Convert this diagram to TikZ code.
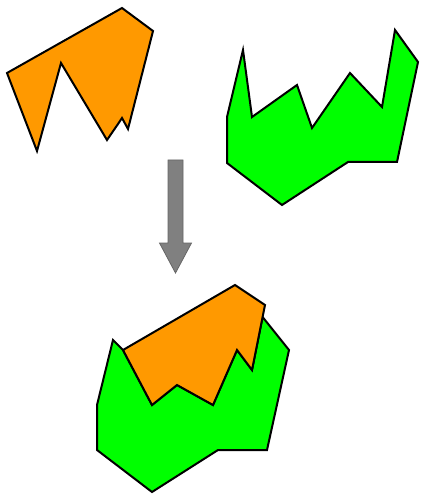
\documentclass[tikz,border=0pt]{standalone}
\usetikzlibrary{calc}
\definecolor{pieceorange}{RGB}{255,153,0}
\definecolor{piecegreen}{RGB}{0,255,0}
\definecolor{arrowgray}{RGB}{128,128,128}
\begin{document}
\begin{tikzpicture}[x=1pt, y=-1pt,
  piece/.style={draw=black, line width=2pt, line join=miter},
  orangepiece/.style={piece, fill=pieceorange},
  greenpiece/.style={piece, fill=piecegreen},
  bigarrow/.style={draw=black!60, fill=arrowgray, line width=0.8pt}
]
  \useasboundingbox (0,0) rectangle (420,494);

  % top left: orange piece
  \draw[orangepiece] (7,73) -- (122,8) -- (153,31) -- (128,129) -- (122,118)
    -- (118,124) -- (107,140) -- (61,63) -- (37,151) -- cycle;

  % top right: green piece
  \draw[greenpiece] (243,50) -- (252,117) -- (297,85) -- (312,128) -- (350,73)
    -- (382,107) -- (395,30) -- (418,62) -- (397,162) -- (348,162)
    -- (282,205) -- (227,163) -- (227,117) -- cycle;

  % arrow
  \draw[bigarrow] (168,160) -- (183,160) -- (183,243) -- (191.5,243)
    -- (175.5,273) -- (159.5,243) -- (168,243) -- cycle;

  % bottom: pieces fitted together
  \draw[greenpiece] (113,340) -- (123,350) -- (152,405) -- (177,385) -- (213,405)
    -- (237,350) -- (252,370) -- (262.6,317) -- (289,350) -- (267,450)
    -- (218,450) -- (152,492) -- (97,450) -- (97,405) -- cycle;
  \draw[orangepiece] (123,350) -- (235,285) -- (265,305) -- (252,370) -- (237,350)
    -- (213,405) -- (177,385) -- (152,405) -- cycle;
\end{tikzpicture}
\end{document}
